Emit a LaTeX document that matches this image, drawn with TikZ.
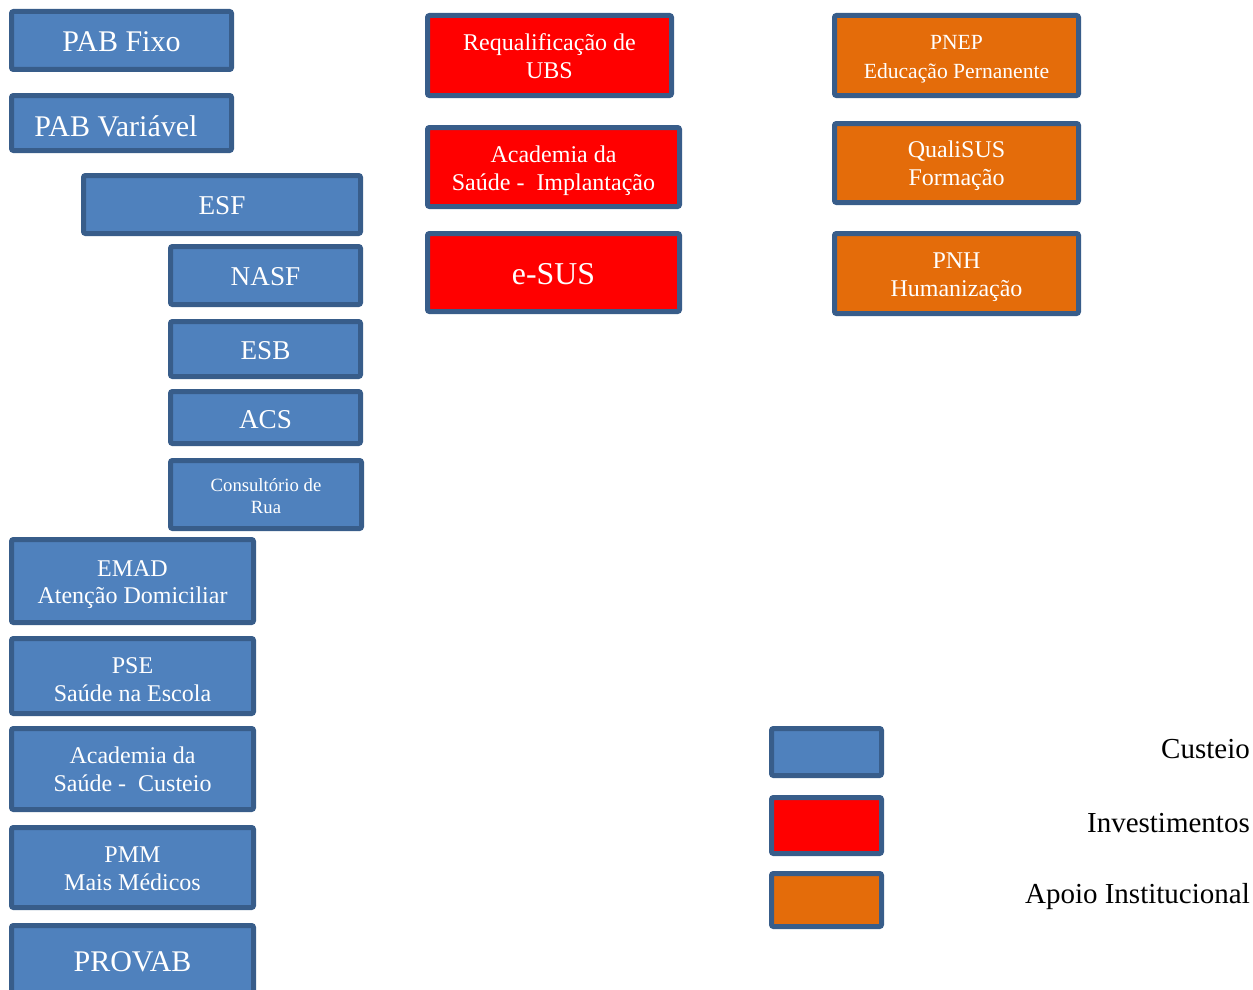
\documentclass[tikz,border=0pt]{standalone}
\usepackage{fontspec}
\setmainfont{Liberation Serif}
\definecolor{bordc}{HTML}{385D8A}
\definecolor{blueF}{HTML}{4F81BD}
\definecolor{redF}{HTML}{FF0000}
\definecolor{orF}{HTML}{E46C0A}
\newcommand{\fs}[2]{\fontsize{#1}{#2}\selectfont}
\tikzset{
  box/.style={draw=bordc, line width=5pt, rounded corners=2pt, inner sep=0pt},
  cu/.style={box, fill=blueF},
  inv/.style={box, fill=redF},
  ap/.style={box, fill=orF},
  txt/.style={text=white, align=center, inner sep=0pt},
  leg/.style={anchor=east, inner sep=0pt, text=black, font=\fs{29}{34}}
}
\begin{document}
\begin{tikzpicture}[x=1pt,y=-1pt]
\useasboundingbox (0,0) rectangle (1253,990);
% Custeio column
\node[cu, minimum width=220pt, minimum height=58pt] (pabfixo) at (121.5,40.5) {};
\node[txt, font=\fs{30}{34}] (pabfixo-t) at (121.5,42) {PAB Fixo};
\node[cu, minimum width=220pt, minimum height=55pt] (pabvar) at (121.5,123) {};
\node[txt, font=\fs{30}{34}] (pabvar-t) at (116,126) {PAB Variável};
\node[cu, minimum width=277pt, minimum height=58pt] (esf) at (222,204.5) {};
\node[txt, font=\fs{27.2}{32}] (esf-t) at (222,206) {ESF};
\node[cu, minimum width=190pt, minimum height=58pt] (nasf) at (265.5,275.5) {};
\node[txt, font=\fs{27.2}{32}] (nasf-t) at (265.5,277) {NASF};
\node[cu, minimum width=190pt, minimum height=55pt] (esb) at (265.5,349) {};
\node[txt, font=\fs{27.2}{32}] (esb-t) at (265.5,351) {ESB};
\node[cu, minimum width=190pt, minimum height=52pt] (acs) at (265.5,417.5) {};
\node[txt, font=\fs{27.2}{32}] (acs-t) at (265.5,420) {ACS};
\node[cu, minimum width=191pt, minimum height=68pt] (cons) at (266,494.5) {};
\node[txt, font=\fs{18.7}{22}] (cons-t) at (266,496) {Consultório de\\Rua};
\node[cu, minimum width=242pt, minimum height=83pt] (emad) at (132.5,581) {};
\node[txt, font=\fs{24}{27}] (emad-t) at (132.5,584.5) {EMAD\\Atenção Domiciliar};
\node[cu, minimum width=242pt, minimum height=75pt] (pse) at (132.5,676) {};
\node[txt, font=\fs{24}{28}] (pse-t) at (132.5,680) {PSE\\Saúde na Escola};
\node[cu, minimum width=242pt, minimum height=81pt] (acadc) at (132.5,769) {};
\node[txt, font=\fs{24}{28}] (acadc-t) at (132.5,769.5) {Academia da\\Saúde -\ \ Custeio};
\node[cu, minimum width=242pt, minimum height=80pt] (pmm) at (132.5,867.5) {};
\node[txt, font=\fs{24}{28}] (pmm-t) at (132.5,869) {PMM\\Mais Médicos};
\node[cu, minimum width=242pt, minimum height=71pt] (provab) at (132.5,961) {};
\node[txt, font=\fs{30}{34}] (provab-t) at (132.5,962) {PROVAB};
% Investimentos column
\node[inv, minimum width=244pt, minimum height=80pt] (requal) at (549.5,55.5) {};
\node[txt, font=\fs{24}{28}] (requal-t) at (549.5,56) {Requalificação de\\UBS};
\node[inv, minimum width=252pt, minimum height=79pt] (acadi) at (553.5,167) {};
\node[txt, font=\fs{24}{28}] (acadi-t) at (553.5,171) {Academia da\\Saúde -\ \ Implantação};
\node[inv, minimum width=252pt, minimum height=78pt] (esus) at (553.5,272.5) {};
\node[txt, font=\fs{31.8}{36}] (esus-t) at (553.5,274) {e-SUS};
% Apoio Institucional column
\node[ap, minimum width=244pt, minimum height=80pt] (pnep) at (956.5,55.5) {};
\node[txt, font=\fs{21.6}{29}] (pnep-t) at (956.5,59.5) {PNEP\\Educação Pernanente};
\node[ap, minimum width=244pt, minimum height=79pt] (quali) at (956.5,163) {};
\node[txt, font=\fs{24}{28}] (quali-t) at (956.5,166) {QualiSUS\\Formação};
\node[ap, minimum width=244pt, minimum height=80pt] (pnh) at (956.5,273.5) {};
\node[txt, font=\fs{24}{28}] (pnh-t) at (956.5,277) {PNH\\Humanização};
% Legend
\node[cu, minimum width=110pt, minimum height=47pt] (lcu) at (826.5,752) {};
\node[inv, minimum width=110pt, minimum height=56pt] (linv) at (826.5,825.5) {};
\node[ap, minimum width=110pt, minimum height=53pt] (lap) at (826.5,900) {};
\node[leg] (tcu) at (1250,749) {Custeio};
\node[leg] (tinv) at (1250,823) {Investimentos};
\node[leg] (tap) at (1250,896.5) {Apoio Institucional};
\end{tikzpicture}
\end{document}
